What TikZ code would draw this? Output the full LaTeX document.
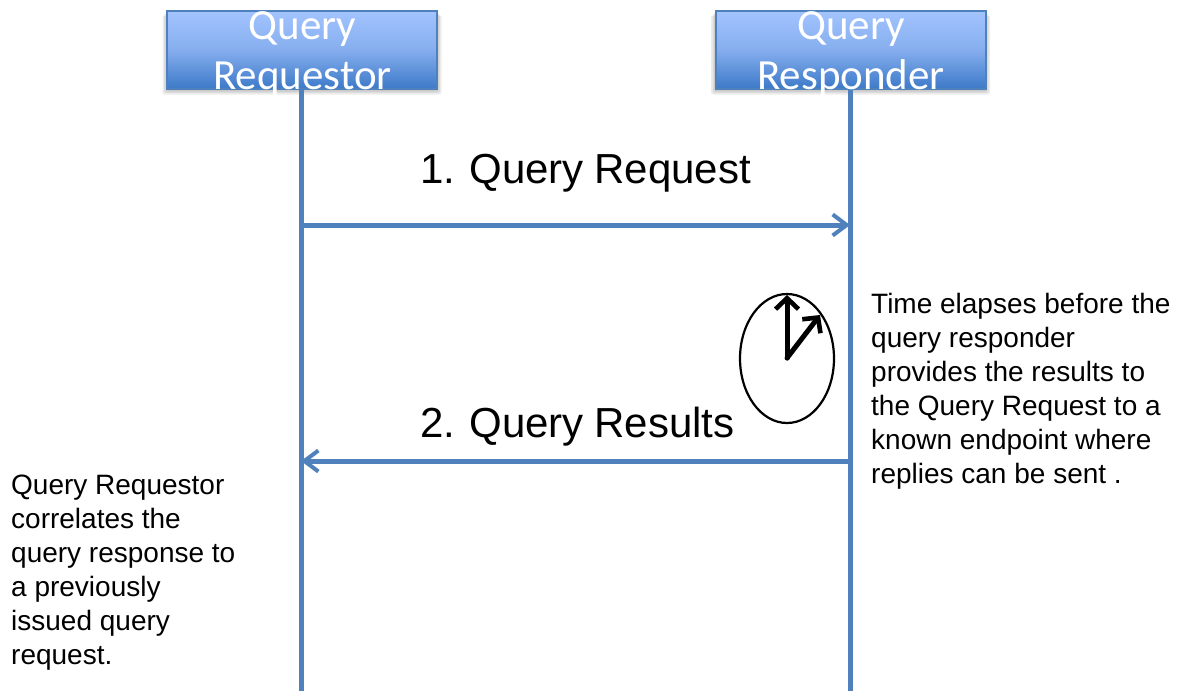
\documentclass[tikz,border=0pt]{standalone}
\usepackage{fontspec}
\setmainfont{Liberation Sans}
\newfontfamily\boxfont{Carlito}
\newfontfamily\msgfont[WordSpace=0.9]{Liberation Sans}
\usetikzlibrary{arrows.meta,calc,shapes.geometric}
\definecolor{lineblue}{HTML}{4F81BD}
\definecolor{boxtop}{HTML}{A3C4FF}
\definecolor{boxmid}{HTML}{86AEEE}
\definecolor{boxbot}{HTML}{3D7AC9}
\tikzset{
 actor/.style={draw=lineblue,line width=2pt,top color=boxtop,bottom color=boxbot,middle color=boxmid,
   minimum width=270pt,minimum height=78pt,inner sep=0pt},
 softshadow/.style={fill=black,opacity=.07,draw=none},
 actorlabel/.style={text=white,font=\boxfont\fontsize{43}{50}\selectfont,align=center,inner sep=0pt},
 lifeline/.style={draw=lineblue,line width=5pt},
 msg/.style={draw=lineblue,line width=5pt,-{Straight Barb[length=14pt,width=21pt,line width=4pt]}},
 msglabel/.style={font=\msgfont\fontsize{42}{45}\selectfont,inner sep=0pt,anchor=base west},
 note/.style={font=\fontsize{28}{34}\selectfont,align=left,inner sep=0pt,anchor=north west},
 clockface/.style={ellipse,draw=black,line width=2.2pt,minimum width=94pt,minimum height=129pt,inner sep=0pt},
 hand/.style={draw=black,line width=5pt,line cap=round,-{Straight Barb[length=11pt,width=23pt,line width=4.6pt]}},
}
\begin{document}
\begin{tikzpicture}[x=1pt,y=-1pt]
\useasboundingbox (0,0) rectangle (1183,691);
\fill[white] (0,0) rectangle (1183,691);
\coordinate (reqend) at (301,691);
\coordinate (resend) at (850,691);
\coordinate (req1) at (301,225);
\coordinate (res1) at (850,225);
\coordinate (req2) at (301,461);
\coordinate (res2) at (850,461);
\foreach \cx in {302,850.5}{
  \foreach \r in {0,1.5,3,4.5}{
    \fill[softshadow,rounded corners=2pt] (\cx-135-\r,11+\r) rectangle (\cx+135+\r,90+\r);
  }
}
\node[actor] (req) at (302,49.5) {};
\node[actor] (res) at (850.5,49.5) {};
\draw[lifeline] (req.south -| reqend) -- (reqend);
\draw[lifeline] (res.south -| resend) -- (resend);
\node[actorlabel] (reqlabel) at (302.5,54) {Query\\Requestor};
\node[actorlabel] (reslabel) at (851,54) {Query\\Responder};
\draw[msg] (req1) -- (res1);
\draw[msg] (res2) -- (req2);
\node[msglabel] (m1) at (420,183) {1. Query Request};
\node[msglabel] (m2) at (420,437) {2. Query Results};
\node[note] (n1) at (871,293) {Time elapses before the\\query responder\\provides the results to\\the Query Request to a\\known endpoint where\\replies can be sent .};
\node[note] (n2) at (11,474.5) {Query Requestor\\correlates the\\query response to\\a previously\\issued query\\request.};
\node[clockface] (clock) at (787,358.5) {};
\coordinate (pivot) at (787,358);
\coordinate (tip1) at (787,295);
\coordinate (tip2) at (820,315);
\draw[hand] (pivot) -- (tip1);
\draw[hand] (pivot) -- (tip2);
\end{tikzpicture}
\end{document}
